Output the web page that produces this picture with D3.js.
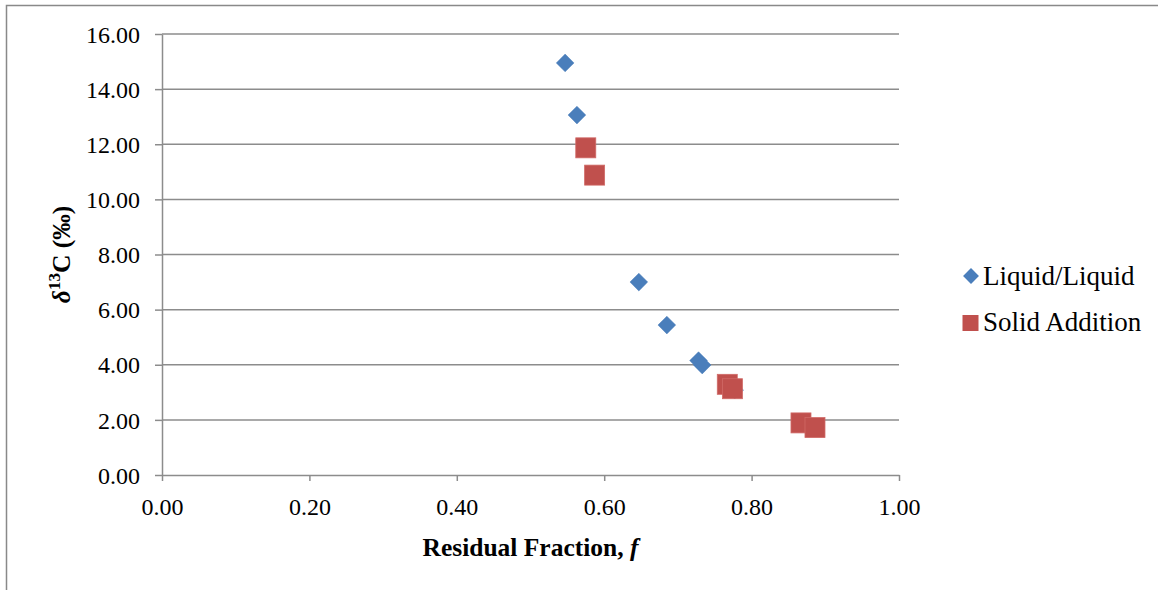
<!DOCTYPE html>
<html>
<head>
<meta charset="utf-8">
<script src="https://cdn.jsdelivr.net/npm/d3@7"></script>
<style>
  body { margin: 0; background: #fff; }
  svg text { font-family: "Liberation Serif", "Times New Roman", serif; fill: #000; }
</style>
</head>
<body>
<div id="main"></div>
<script>
// data
const liquidX = [0.547, 0.563, 0.647, 0.685, 0.728, 0.733, 0.777];
const liquidY = [14.95, 13.06, 7.00, 5.44, 4.15, 3.99, 3.08];
const solidX = [0.575, 0.587, 0.767, 0.774, 0.867, 0.886];
const solidY = [11.87, 10.88, 3.29, 3.13, 1.89, 1.72];
const xTicks = [0, 0.2, 0.4, 0.6, 0.8, 1.0];
const yTicks = [0, 2, 4, 6, 8, 10, 12, 14, 16];
const seriesNames = ["Liquid/Liquid", "Solid Addition"];

const width = 1158, height = 590;
const padding = {top: 34, right: 259, bottom: 115, left: 162};
const plotW = width - padding.left - padding.right;
const plotH = height - padding.top - padding.bottom;

const svg = d3.select('#main').append('svg')
    .attr('width', width).attr('height', height);

// outer chart frame (clipped by the window on the right and bottom)
svg.append('rect')
    .attr('x', 6.5).attr('y', 5.5)
    .attr('width', width + 20).attr('height', height + 20)
    .attr('fill', 'none').attr('stroke', '#898989').attr('stroke-width', 1.5);

const xScale = d3.scaleLinear().domain([0, 1]).range([0, plotW]);
const yScale = d3.scaleLinear().domain([0, 16]).range([plotH, 0]);

const g = svg.append('g')
    .attr('transform', 'translate(' + padding.left + ',' + padding.top + ')');

// horizontal gridlines
g.selectAll('line.grid').data(yTicks.slice(1)).enter().append('line')
    .attr('class', 'grid')
    .attr('x1', 0).attr('x2', plotW)
    .attr('y1', d => yScale(d)).attr('y2', d => yScale(d))
    .attr('stroke', '#8c8c8c').attr('stroke-width', 1.5);

const xAxis = d3.axisBottom(xScale).tickValues(xTicks)
    .tickFormat(d3.format('.2f')).tickSizeInner(6).tickSizeOuter(0);
const yAxis = d3.axisLeft(yScale).tickValues(yTicks)
    .tickFormat(d3.format('.2f')).tickSizeInner(7).tickSizeOuter(0);

const gx = g.append('g').attr('transform', 'translate(0,' + plotH + ')').call(xAxis);
const gy = g.append('g').call(yAxis);

[gx, gy].forEach(a => {
    a.selectAll('path, line').attr('stroke', '#8c8c8c').attr('stroke-width', 1.5);
    a.selectAll('text').style('font-size', '24px')
        .style('font-family', '"Liberation Serif", "Times New Roman", serif').attr('fill', '#000');
});
gx.selectAll('text').attr('y', 40).attr('dy', 0);
gy.selectAll('text').attr('x', -22).attr('dy', '0.34em');

// axis titles
svg.append('text')
    .attr('x', padding.left + plotW / 2).attr('y', 556)
    .attr('text-anchor', 'middle')
    .style('font-size', '25.5px').style('font-weight', 'bold')
    .html('Residual Fraction, <tspan font-style="italic">f</tspan>');

const yt = svg.append('text')
    .attr('transform', 'translate(70,' + (padding.top + plotH / 2) + ') rotate(-90)')
    .attr('text-anchor', 'middle')
    .style('font-size', '25.5px').style('font-weight', 'bold');
yt.append('tspan').attr('font-style', 'italic').text('δ');
yt.append('tspan').attr('font-size', '17px').attr('dy', '-10').text('13');
yt.append('tspan').attr('dy', '10').text('C (‰)');

const blue = '#4a7ebb', red = '#c0504d';
const diamond = d3.symbol().type(d3.symbolDiamond2).size(200);

const liquid = d3.zip(liquidX, liquidY);
const solid = d3.zip(solidX, solidY);

g.selectAll('path.liq').data(liquid).enter().append('path')
    .attr('class', 'liq')
    .attr('d', diamond)
    .attr('transform', d => 'translate(' + xScale(d[0]) + ',' + yScale(d[1]) + ')')
    .attr('fill', blue).attr('stroke', '#4a7ebb').attr('stroke-width', 0.5);

const sq = 20;
g.selectAll('rect.sol').data(solid).enter().append('rect')
    .attr('class', 'sol')
    .attr('x', d => xScale(d[0]) - sq / 2).attr('y', d => yScale(d[1]) - sq / 2)
    .attr('width', sq).attr('height', sq)
    .attr('fill', red).attr('stroke', '#d06a67').attr('stroke-width', 0.8);

// legend
const leg = svg.append('g').attr('transform', 'translate(971,276)');
leg.append('path').attr('d', d3.symbol().type(d3.symbolDiamond2).size(160))
    .attr('fill', blue);
leg.append('text').attr('x', 12).attr('y', 9).style('font-size', '27px').text(seriesNames[0]);
leg.append('rect').attr('x', -8.5).attr('y', 39).attr('width', 16).attr('height', 16)
    .attr('fill', red);
leg.append('text').attr('x', 12).attr('y', 55).style('font-size', '27px').text(seriesNames[1]);
</script>
</body>
</html>
